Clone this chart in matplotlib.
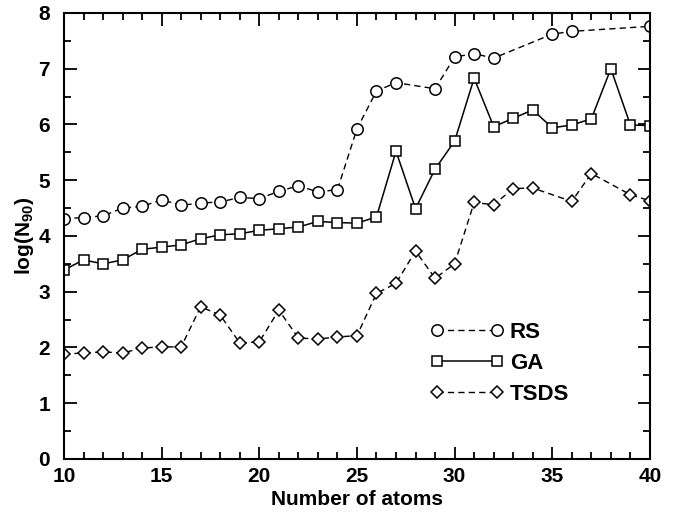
import matplotlib
matplotlib.use("Agg")
import matplotlib.pyplot as plt
import matplotlib.ticker as mticker

plt.rcParams["font.family"] = ["Liberation Sans", "DejaVu Sans"]
plt.rcParams["font.weight"] = "bold"
plt.rcParams["mathtext.fontset"] = "custom"
plt.rcParams["mathtext.bf"] = "Liberation Sans:bold"
plt.rcParams["mathtext.rm"] = "Liberation Sans:bold"

# log(N90)
rs_atoms = [10, 11, 12, 13, 14, 15, 16, 17, 18, 19, 20, 21, 22, 23, 24, 25,
            26, 27, 29, 30, 31, 32, 35, 36, 40]
rs_vals = [4.31, 4.33, 4.36, 4.50, 4.53, 4.65, 4.55, 4.59, 4.61, 4.69, 4.67,
           4.80, 4.90, 4.79, 4.83, 5.92, 6.60, 6.75, 6.64, 7.21, 7.27, 7.19,
           7.62, 7.67, 7.76]

ga_atoms = list(range(10, 41))
ga_vals = [3.39, 3.57, 3.50, 3.57, 3.76, 3.80, 3.84, 3.95, 4.02, 4.04, 4.10,
           4.13, 4.16, 4.26, 4.24, 4.23, 4.34, 5.52, 4.49, 5.20, 5.70, 6.83,
           5.96, 6.11, 6.26, 5.94, 5.99, 6.10, 7.00, 5.99, 5.98]

tsds_atoms = [10, 11, 12, 13, 14, 15, 16, 17, 18, 19, 20, 21, 22, 23, 24, 25,
              26, 27, 28, 29, 30, 31, 32, 33, 34, 36, 37, 39, 40]
tsds_vals = [1.88, 1.90, 1.92, 1.90, 1.99, 2.01, 2.01, 2.73, 2.58, 2.08, 2.10,
             2.67, 2.17, 2.15, 2.19, 2.21, 2.97, 3.15, 3.73, 3.24, 3.50, 4.60,
             4.56, 4.85, 4.86, 4.62, 5.12, 4.74, 4.63]

fig = plt.figure(figsize=(6.77, 5.18), dpi=100)
ax = fig.add_axes([0.0945, 0.114, 0.8655, 0.861])

dash = (0, (4.5, 3))
ax.plot(rs_atoms, rs_vals, color="black", linestyle=dash, linewidth=1.0,
        marker="o", markersize=8.2, markerfacecolor="white",
        markeredgecolor="black", markeredgewidth=1.1, label="RS")
ax.plot(ga_atoms, ga_vals, color="black", linestyle="-", linewidth=1.1,
        marker="s", markersize=7.4, markerfacecolor="white",
        markeredgecolor="black", markeredgewidth=1.1, label="GA")
ax.plot(tsds_atoms, tsds_vals, color="black", linestyle=dash, linewidth=1.0,
        marker="D", markersize=5.8, markerfacecolor="white",
        markeredgecolor="black", markeredgewidth=1.1, label="TSDS")

ax.set_xlim(10, 40)
ax.set_ylim(0, 8)
ax.xaxis.set_major_locator(mticker.MultipleLocator(5))
ax.xaxis.set_minor_locator(mticker.MultipleLocator(1))
ax.yaxis.set_major_locator(mticker.MultipleLocator(1))
ax.yaxis.set_minor_locator(mticker.MultipleLocator(0.5))
ax.tick_params(which="both", direction="in", top=True, right=True, width=1.3)
ax.tick_params(which="major", length=9, labelsize=15)
ax.tick_params(which="minor", length=5)
ax.tick_params(axis="x", which="major", pad=6)
ax.tick_params(axis="y", which="major", pad=10)
for spine in ax.spines.values():
    spine.set_linewidth(1.5)

ax.set_xlabel("Number of atoms", fontsize=15, fontweight="bold", labelpad=3)
ax.set_ylabel(r"log(N$_{\mathbf{90}}$)", fontsize=15, fontweight="bold", labelpad=2)

leg = ax.legend(loc="upper left", bbox_to_anchor=(0.626, 0.307), frameon=False,
                numpoints=2, handlelength=3.3, fontsize=16, labelspacing=0.45,
                handletextpad=0.25, borderpad=0, borderaxespad=0)
for t in leg.get_texts():
    t.set_fontweight("bold")

fig.savefig("out.png", dpi=100)
